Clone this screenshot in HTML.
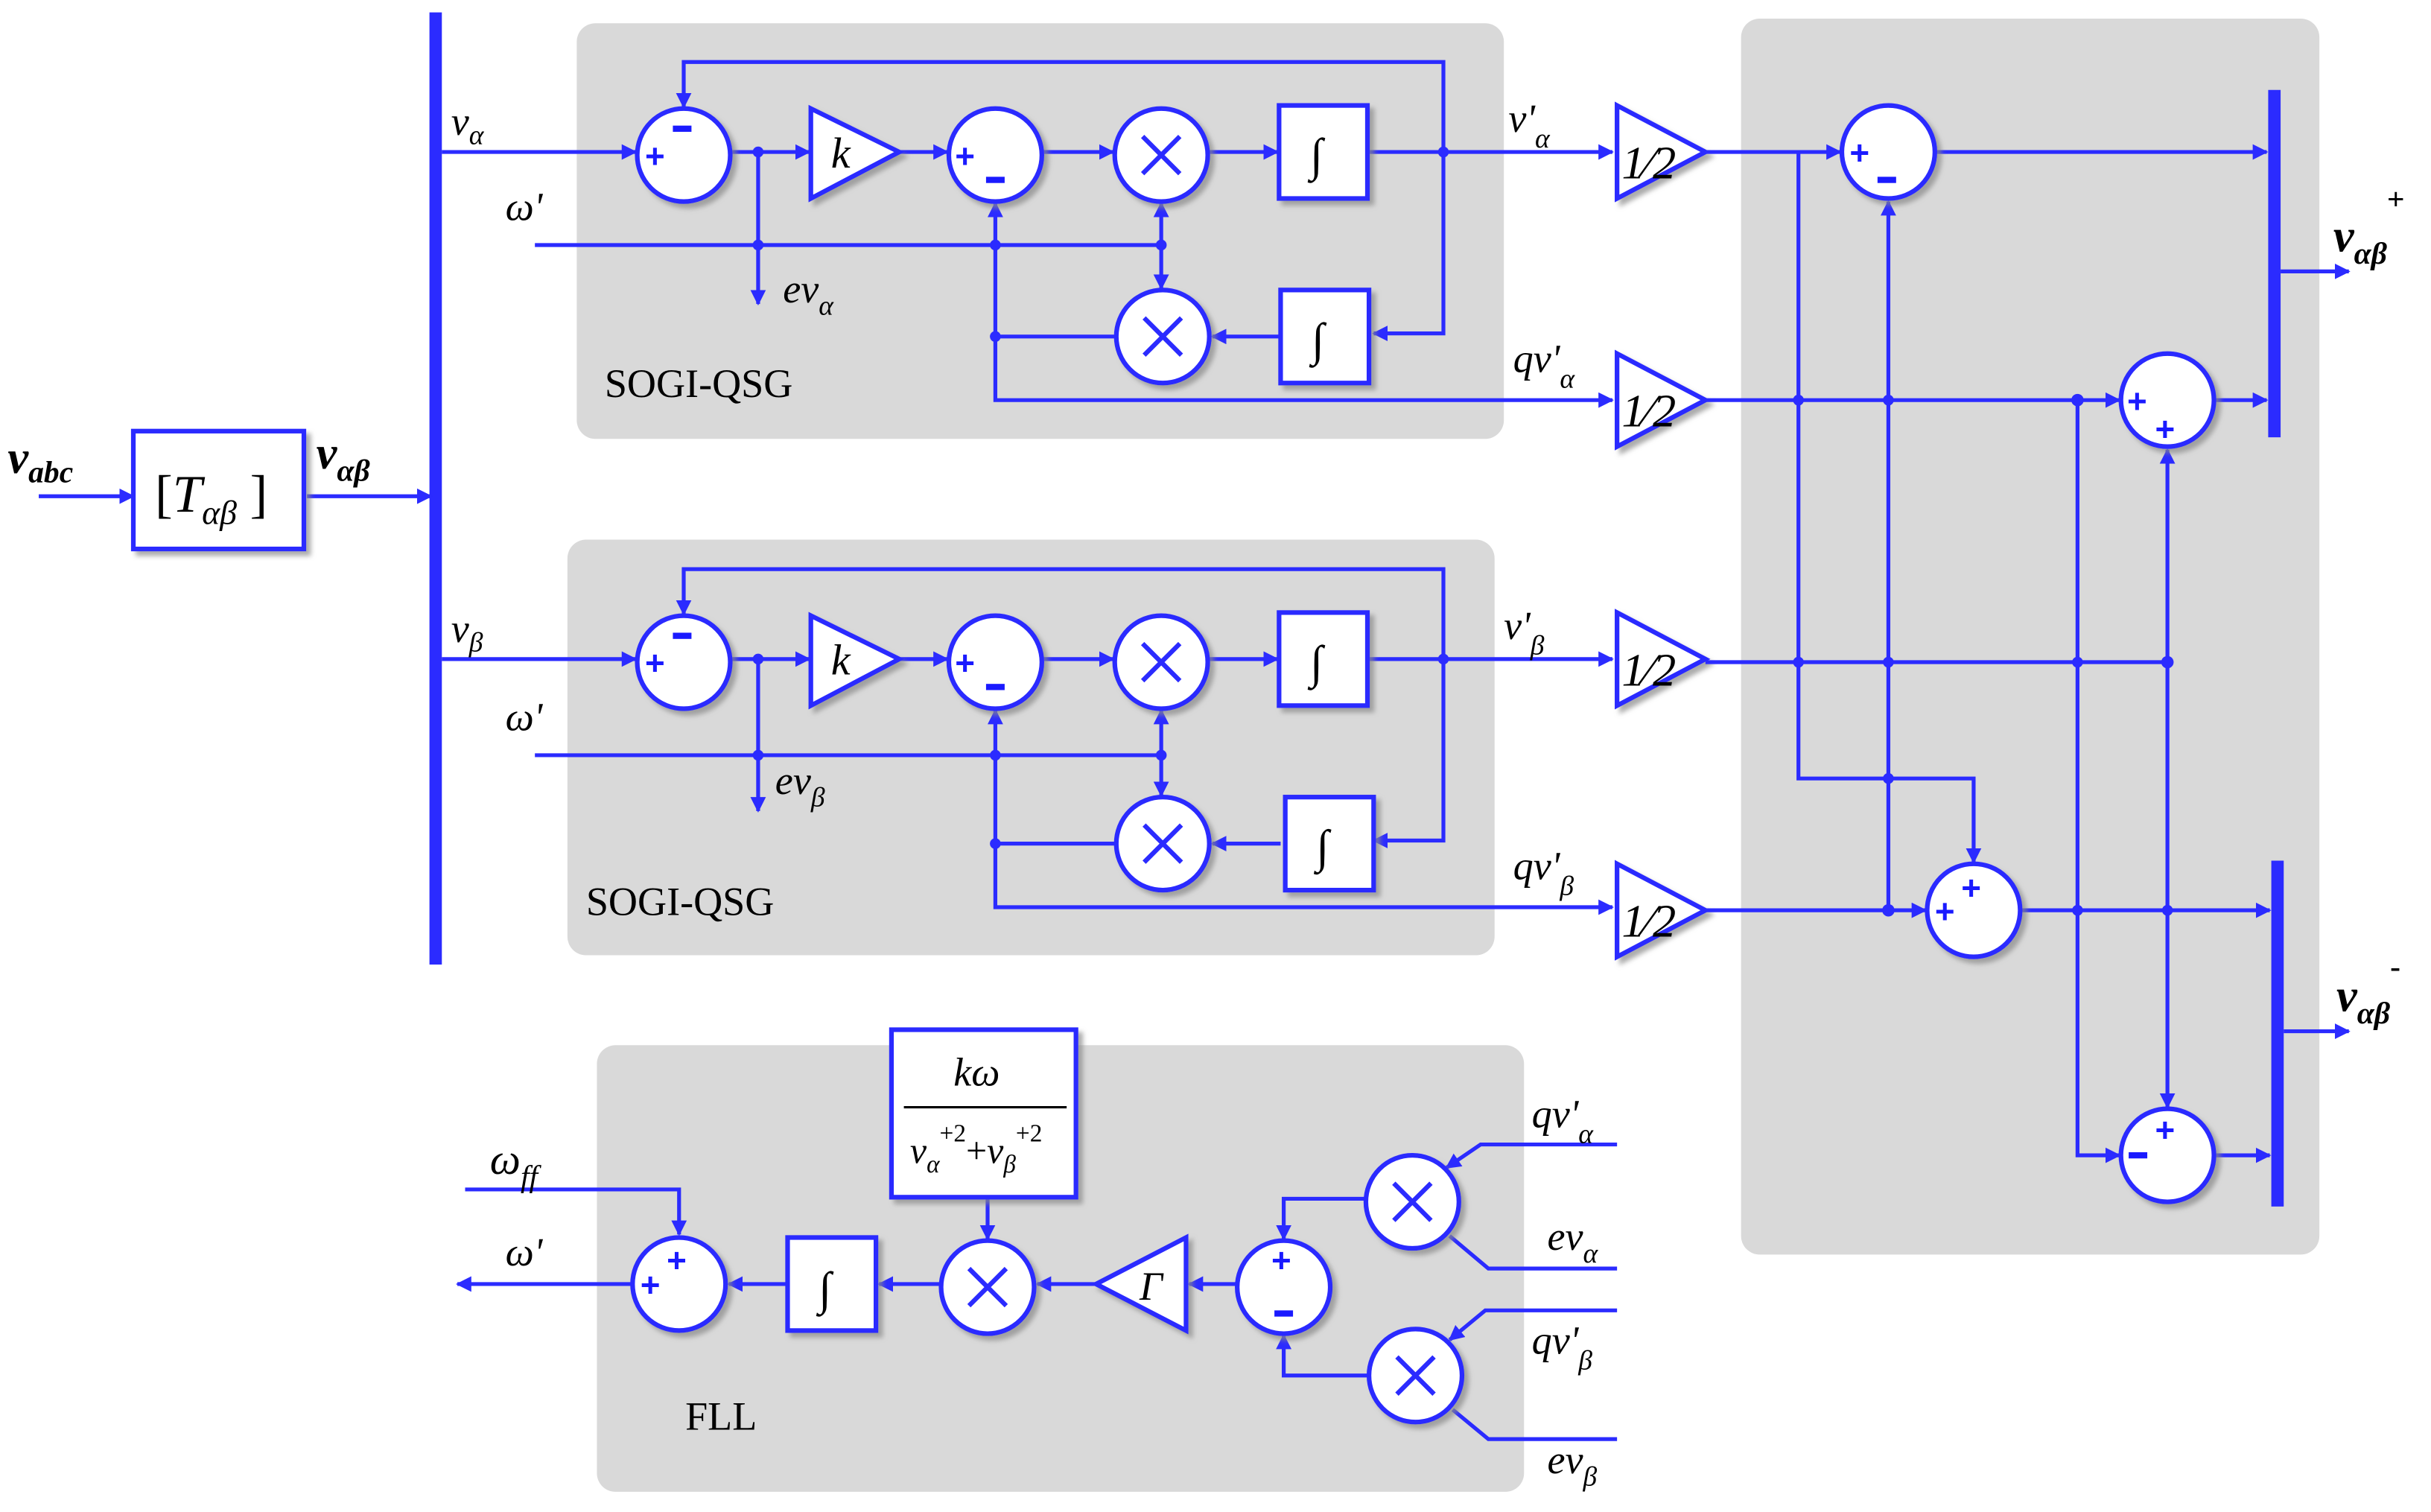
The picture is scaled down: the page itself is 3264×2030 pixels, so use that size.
<!DOCTYPE html>
<html><head><meta charset="utf-8"><style>
html,body{margin:0;padding:0;background:#fff}
svg{display:block}
text{font-family:"Liberation Serif",serif;font-style:italic;fill:#000}
.s{font-style:normal;fill:#1a1aff;font-family:"Liberation Sans",sans-serif;font-weight:bold}
</style></head><body>
<svg width="3264" height="2030" viewBox="0 0 1568 975" preserveAspectRatio="none" xmlns="http://www.w3.org/2000/svg">
<defs>
<marker id="a" markerWidth="10" markerHeight="10" refX="9" refY="5" orient="auto" markerUnits="userSpaceOnUse"><path d="M0,0 L10,5 L0,10 z" fill="#2b2bff"/></marker>
<filter id="sh"><feDropShadow dx="3" dy="3" stdDeviation="1.5" flood-color="#888" flood-opacity="0.7"/></filter>
</defs>
<g fill="#d9d9d9">
<rect x="372" y="15" width="598" height="268" rx="12"/>
<rect x="366" y="348" width="598" height="268" rx="12"/>
<rect x="385" y="674" width="598" height="288" rx="12"/>
<rect x="1123" y="12" width="373" height="797" rx="12"/>
</g>
<g stroke="#2b2bff" stroke-width="2.5" fill="none">
<line x1="281" y1="8" x2="281" y2="622" stroke-width="8"/>
<line x1="1467" y1="58" x2="1467" y2="282" stroke-width="8"/>
<line x1="1469" y1="555" x2="1469" y2="778" stroke-width="8"/>
<line x1="25" y1="320" x2="86" y2="320" marker-end="url(#a)"/>
<line x1="198" y1="320" x2="278" y2="320" marker-end="url(#a)"/>
<line x1="1471" y1="175" x2="1515" y2="175" marker-end="url(#a)"/>
<line x1="1473" y1="665" x2="1515" y2="665" marker-end="url(#a)"/>
</g>
<rect x="86" y="278" width="110" height="76" fill="#fff" stroke="#2b2bff" stroke-width="3" filter="url(#sh)"/>

<g stroke="#2b2bff" stroke-width="2.5" fill="none">
<line x1="285" y1="98" x2="410" y2="98" marker-end="url(#a)"/>
<line x1="471" y1="98" x2="522" y2="98" marker-end="url(#a)"/>
<line x1="580" y1="98" x2="611" y2="98" marker-end="url(#a)"/>
<line x1="672" y1="98" x2="718" y2="98" marker-end="url(#a)"/>
<line x1="779" y1="98" x2="824" y2="98" marker-end="url(#a)"/>
<line x1="882" y1="98" x2="1040" y2="98" marker-end="url(#a)"/>
<polyline points="931,98 931,40 441,40 441,69" marker-end="url(#a)"/>
<polyline points="931,98 931,215 886,215" marker-end="url(#a)"/>
<line x1="826" y1="217" x2="782" y2="217" marker-end="url(#a)"/>
<polyline points="720,217 642,217 642,131" marker-end="url(#a)"/>
<polyline points="642,217 642,258 1040,258" marker-end="url(#a)"/>
<line x1="345" y1="158" x2="749" y2="158"/>
<line x1="749" y1="158" x2="749" y2="131" marker-end="url(#a)"/>
<line x1="749" y1="158" x2="749" y2="186" marker-end="url(#a)"/>
<line x1="489" y1="98" x2="489" y2="196" marker-end="url(#a)"/>
</g>
<g fill="#2b2bff"><circle cx="489" cy="98" r="3.5"/><circle cx="931" cy="98" r="3.5"/><circle cx="489" cy="158" r="3.5"/><circle cx="642" cy="158" r="3.5"/><circle cx="749" cy="158" r="3.5"/><circle cx="642" cy="217" r="3.5"/></g>
<g stroke="#2b2bff" stroke-width="3" fill="#fff" filter="url(#sh)">
<circle cx="441" cy="100" r="30"/><circle cx="642" cy="100" r="30"/><circle cx="749" cy="100" r="30"/><circle cx="750" cy="217" r="30"/>
<polygon points="523,70 580,98 523,128"/>
<rect x="825" y="68" width="57" height="60"/><rect x="826" y="187" width="57" height="60"/>
<polygon points="1043,68 1100,98 1043,128"/><polygon points="1043,228 1100,258 1043,288"/>
</g>
<g stroke="#2b2bff" stroke-width="3"><path d="M737,88 L761,112 M761,88 L737,112 M738,205 L762,229 M762,205 L738,229"/></g>
<g fill="#1a1aff"><rect x="434" y="81" width="12" height="4"/><rect x="636" y="114" width="12" height="4"/></g>
<text class="s" x="416" y="108" font-size="22">+</text>
<text class="s" x="616" y="108" font-size="22">+</text>
<text x="536" y="108" font-size="28">k</text>
<text x="845" y="110" font-size="30" style="font-style:normal">∫</text><text x="846" y="229" font-size="30" style="font-style:normal">∫</text>
<text x="1046" y="115" font-size="30">1⁄2</text><text x="1046" y="275" font-size="30">1⁄2</text>
<text x="291" y="87" font-size="26">v<tspan font-size="18" dy="6">α</tspan></text>
<text x="326" y="142" font-size="26">ω'</text>
<text x="505" y="195" font-size="26">ev<tspan font-size="18" dy="8">α</tspan></text>
<text x="390" y="256" font-size="26" style="font-style:normal">SOGI-QSG</text>
<text x="973" y="85" font-size="26">v'<tspan font-size="18" dy="10">α</tspan></text>
<text x="976" y="240" font-size="26">qv'<tspan font-size="18" dy="10">α</tspan></text>

<g transform="translate(0,327)">
<g stroke="#2b2bff" stroke-width="2.5" fill="none">
<line x1="285" y1="98" x2="410" y2="98" marker-end="url(#a)"/>
<line x1="471" y1="98" x2="522" y2="98" marker-end="url(#a)"/>
<line x1="580" y1="98" x2="611" y2="98" marker-end="url(#a)"/>
<line x1="672" y1="98" x2="718" y2="98" marker-end="url(#a)"/>
<line x1="779" y1="98" x2="824" y2="98" marker-end="url(#a)"/>
<line x1="882" y1="98" x2="1040" y2="98" marker-end="url(#a)"/>
<polyline points="931,98 931,40 441,40 441,69" marker-end="url(#a)"/>
<polyline points="931,98 931,215 886,215" marker-end="url(#a)"/>
<line x1="826" y1="217" x2="782" y2="217" marker-end="url(#a)"/>
<polyline points="720,217 642,217 642,131" marker-end="url(#a)"/>
<polyline points="642,217 642,258 1040,258" marker-end="url(#a)"/>
<line x1="345" y1="160" x2="749" y2="160"/>
<line x1="749" y1="160" x2="749" y2="131" marker-end="url(#a)"/>
<line x1="749" y1="160" x2="749" y2="186" marker-end="url(#a)"/>
<line x1="489" y1="98" x2="489" y2="196" marker-end="url(#a)"/>
</g>
<g fill="#2b2bff"><circle cx="489" cy="98" r="3.5"/><circle cx="931" cy="98" r="3.5"/><circle cx="489" cy="160" r="3.5"/><circle cx="642" cy="160" r="3.5"/><circle cx="749" cy="160" r="3.5"/><circle cx="642" cy="217" r="3.5"/></g>
<g stroke="#2b2bff" stroke-width="3" fill="#fff" filter="url(#sh)">
<circle cx="441" cy="100" r="30"/><circle cx="642" cy="100" r="30"/><circle cx="749" cy="100" r="30"/><circle cx="750" cy="217" r="30"/>
<polygon points="523,70 580,98 523,128"/>
<rect x="825" y="68" width="57" height="60"/><rect x="829" y="187" width="57" height="60"/>
<polygon points="1043,68 1100,98 1043,128"/><polygon points="1043,230 1100,260 1043,290"/>
</g>
<g stroke="#2b2bff" stroke-width="3"><path d="M737,88 L761,112 M761,88 L737,112 M738,205 L762,229 M762,205 L738,229"/></g>
<g fill="#1a1aff"><rect x="434" y="81" width="12" height="4"/><rect x="636" y="114" width="12" height="4"/></g>
<text class="s" x="416" y="108" font-size="22">+</text>
<text class="s" x="616" y="108" font-size="22">+</text>
<text x="536" y="108" font-size="28">k</text>
<text x="845" y="110" font-size="30" style="font-style:normal">∫</text><text x="849" y="229" font-size="30" style="font-style:normal">∫</text>
<text x="1046" y="115" font-size="30">1⁄2</text><text x="1046" y="277" font-size="30">1⁄2</text>
<text x="291" y="87" font-size="26">v<tspan font-size="18" dy="6">β</tspan></text>
<text x="326" y="144" font-size="26">ω'</text>
<text x="500" y="185" font-size="26">ev<tspan font-size="18" dy="8">β</tspan></text>
<text x="378" y="263" font-size="26" style="font-style:normal">SOGI-QSG</text>
<text x="970" y="85" font-size="26">v'<tspan font-size="18" dy="10">β</tspan></text>
<text x="976" y="240" font-size="26">qv'<tspan font-size="18" dy="10">β</tspan></text>
</g>

<g stroke="#2b2bff" stroke-width="2.5" fill="none">
<line x1="1100" y1="98" x2="1187" y2="98" marker-end="url(#a)"/>
<line x1="1248" y1="98" x2="1462" y2="98" marker-end="url(#a)"/>
<polyline points="1160,98 1160,502 1273,502 1273,556" marker-end="url(#a)"/>
<line x1="1218" y1="587" x2="1218" y2="130" marker-end="url(#a)"/>
<line x1="1100" y1="258" x2="1367" y2="258" marker-end="url(#a)"/>
<line x1="1428" y1="258" x2="1462" y2="258" marker-end="url(#a)"/>
<polyline points="1340,258 1340,745 1367,745" marker-end="url(#a)"/>
<line x1="1100" y1="427" x2="1398" y2="427"/>
<line x1="1398" y1="427" x2="1398" y2="290" marker-end="url(#a)"/>
<line x1="1398" y1="427" x2="1398" y2="714" marker-end="url(#a)"/>
<line x1="1100" y1="587" x2="1242" y2="587" marker-end="url(#a)"/>
<line x1="1304" y1="587" x2="1464" y2="587" marker-end="url(#a)"/>
<line x1="1428" y1="745" x2="1464" y2="745" marker-end="url(#a)"/>
</g>
<g fill="#2b2bff"><circle cx="1160" cy="258" r="3.5"/><circle cx="1218" cy="258" r="3.5"/><circle cx="1340" cy="258" r="4"/><circle cx="1160" cy="427" r="3.5"/><circle cx="1218" cy="427" r="3.5"/><circle cx="1340" cy="427" r="3.5"/><circle cx="1398" cy="427" r="4"/><circle cx="1218" cy="502" r="3.5"/><circle cx="1218" cy="587" r="4"/><circle cx="1340" cy="587" r="3.5"/><circle cx="1398" cy="587" r="3.5"/></g>
<g stroke="#2b2bff" stroke-width="3" fill="#fff" filter="url(#sh)">
<circle cx="1218" cy="98" r="30"/><circle cx="1398" cy="258" r="30"/><circle cx="1273" cy="587" r="30"/><circle cx="1398" cy="745" r="30"/>
</g>
<g fill="#1a1aff"><rect x="1211" y="114" width="12" height="4"/><rect x="1373" y="743" width="12" height="4"/></g>
<text class="s" x="1193" y="106" font-size="22">+</text>
<text class="s" x="1372" y="266" font-size="22">+</text><text class="s" x="1390" y="284" font-size="22">+</text>
<text class="s" x="1248" y="595" font-size="22">+</text><text class="s" x="1265" y="580" font-size="22">+</text>
<text class="s" x="1390" y="736" font-size="22">+</text>
<text x="1505" y="162" font-size="30" font-weight="bold">v<tspan font-size="20" dy="8">αβ</tspan><tspan font-size="20" dy="-35" style="font-style:normal">+</tspan></text>
<text x="1507" y="652" font-size="30" font-weight="bold">v<tspan font-size="20" dy="8">αβ</tspan><tspan font-size="20" dy="-30" style="font-style:normal">-</tspan></text>

<text x="5" y="305" font-size="30" font-weight="bold">v<tspan font-size="20" dy="6">abc</tspan></text>
<text x="100" y="330" font-size="34" style="font-style:normal">[<tspan font-style="italic">T</tspan><tspan font-size="22" dy="8" font-style="italic">αβ</tspan><tspan dy="-8"> ]</tspan></text>
<text x="204" y="302" font-size="30" font-weight="bold">v<tspan font-size="20" dy="8">αβ</tspan></text>

<g stroke="#2b2bff" stroke-width="2.5" fill="none">
<polyline points="300,767 438,767 438,796" marker-end="url(#a)"/>
<line x1="408" y1="828" x2="295" y2="828" marker-end="url(#a)"/>
<line x1="508" y1="828" x2="470" y2="828" marker-end="url(#a)"/>
<line x1="607" y1="828" x2="567" y2="828" marker-end="url(#a)"/>
<line x1="637" y1="772" x2="637" y2="799" marker-end="url(#a)"/>
<line x1="707" y1="828" x2="669" y2="828" marker-end="url(#a)"/>
<line x1="798" y1="828" x2="767" y2="828" marker-end="url(#a)"/>
<polyline points="881,773 828,773 828,799" marker-end="url(#a)"/>
<polyline points="883,887 828,887 828,861" marker-end="url(#a)"/>
<polyline points="1043,738 955,738 933,753" marker-end="url(#a)"/>
<polyline points="1043,818 960,818 935,797"/>
<polyline points="1043,845 958,845 935,864" marker-end="url(#a)"/>
<polyline points="1043,928 960,928 937,909"/>
</g>
<g stroke="#2b2bff" stroke-width="3" fill="#fff" filter="url(#sh)">
<circle cx="438" cy="828" r="30"/><circle cx="637" cy="830" r="30"/><circle cx="828" cy="830" r="30"/>
<circle cx="911" cy="775" r="30"/><circle cx="913" cy="887" r="30"/>
<rect x="508" y="798" width="57" height="60"/>
<rect x="575" y="664" width="119" height="108"/>
<polygon points="707,828 765,798 765,858"/>
</g>
<g stroke="#2b2bff" stroke-width="3"><path d="M625,818 L649,842 M649,818 L625,842 M899,763 L923,787 M923,763 L899,787 M901,875 L925,899 M925,875 L901,899"/></g>
<g fill="#1a1aff"><rect x="822" y="845" width="12" height="4"/></g>
<text class="s" x="413" y="836" font-size="22">+</text><text class="s" x="430" y="820" font-size="22">+</text>
<text class="s" x="820" y="820" font-size="22">+</text>
<text x="528" y="841" font-size="30" style="font-style:normal">∫</text>
<text x="735" y="838" font-size="26">Γ</text>
<text x="615" y="700" font-size="26">kω</text>
<line x1="583" y1="714" x2="688" y2="714" stroke="#000" stroke-width="1.5"/>
<text x="587" y="750" font-size="24">v<tspan font-size="16" dy="6">α</tspan><tspan font-size="16" dy="-20" style="font-style:normal">+2</tspan><tspan dy="14" style="font-style:normal">+</tspan>v<tspan font-size="16" dy="6">β</tspan><tspan font-size="16" dy="-20" style="font-style:normal">+2</tspan></text>
<text x="316" y="757" font-size="28">ω<tspan font-size="20" dy="8">ff</tspan></text>
<text x="326" y="816" font-size="26">ω'</text>
<text x="442" y="922" font-size="26" style="font-style:normal">FLL</text>
<text x="988" y="727" font-size="26">qv'<tspan font-size="18" dy="10">α</tspan></text>
<text x="998" y="806" font-size="26">ev<tspan font-size="18" dy="8">α</tspan></text>
<text x="988" y="873" font-size="26">qv'<tspan font-size="18" dy="10">β</tspan></text>
<text x="998" y="950" font-size="26">ev<tspan font-size="18" dy="8">β</tspan></text>
</svg>
</body></html>
